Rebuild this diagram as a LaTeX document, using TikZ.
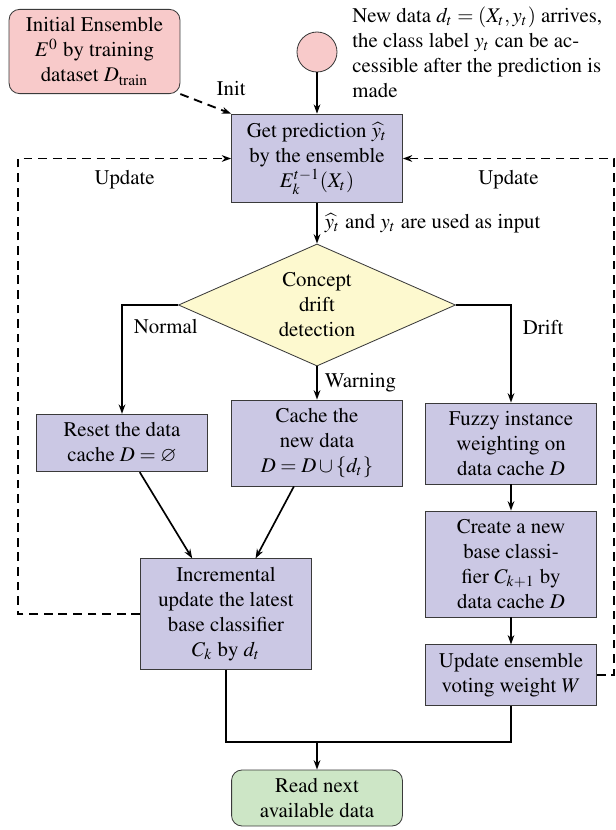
\documentclass[tikz,border=0pt]{standalone}
\usepackage[T1]{fontenc}
\usepackage{amsmath,amssymb}
\usepackage{mathptmx}
\usetikzlibrary{arrows.meta,shapes.geometric}

\definecolor{initred}{HTML}{F8CACA}
\definecolor{boxblue}{HTML}{CBC8E4}
\definecolor{testyellow}{HTML}{FDF9CF}
\definecolor{endgreen}{HTML}{CDE6C6}
\definecolor{edgegray}{HTML}{3A3A3A}

\begin{document}
\begin{tikzpicture}[x=0.48pt,y=-0.48pt,
    proc/.style={draw=edgegray,fill=boxblue,minimum width=82pt,inner sep=4pt,align=center},
    term/.style={proc,rounded corners=5pt},
    test/.style={diamond,draw=edgegray,fill=testyellow,aspect=2.27,inner sep=1pt,
        minimum width=133pt,minimum height=58.6pt,align=center},
    arr/.style={line width=0.8pt,-{Stealth[length=4.5pt,width=3.2pt]}},
    darr/.style={arr,line width=0.9pt,dash pattern=on 4.2pt off 2.8pt},
    line/.style={line width=0.8pt}]
    \useasboundingbox (0,0) rectangle (616,830);

    \node [term,fill=initred] (init) at (94.5,51.5) {Initial Ensemble\\$E^0$ by training\\dataset $D_{\text{train}}$};
    \node [circle,draw=edgegray,fill=initred,minimum size=19.2pt,inner sep=0pt] (start) at (317,52) {};
    \node [anchor=north west,inner sep=0pt,align=left] (note) at (352,6) {New data $d_t=(X_t,y_t)$ arrives,\\the class label $y_t$ can be ac-\\cessible after the prediction is\\made};
    \node [proc] (pred) at (317,158.5) {Get prediction $\widehat{y}_t$\\by the ensemble\\$E_k^{t-1}(X_t)$};
    \node [test] (dd) at (317,305) {Concept\\drift\\detection};
    \node [proc] (reset) at (122,443) {Reset the data\\cache $D=\varnothing$};
    \node [proc] (cache) at (317,443) {Cache the\\new data\\$D=D\cup\{d_t\}$};
    \node [proc] (fuzzy) at (511,443.5) {Fuzzy instance\\weighting on\\data cache $D$};
    \node [proc] (create) at (511,564) {Create a new\\base classi-\\fier $C_{k+1}$ by\\data cache $D$};
    \node [proc] (upd) at (511,675) {Update ensemble\\voting weight $W$};
    \node [proc] (incr) at (226,614) {Incremental\\update the latest\\base classifier\\$C_k$ by $d_t$};
    \node [term,fill=endgreen] (read) at (317,798) {Read next\\available data};

    \coordinate (lft) at (18,158.5);
    \coordinate (rgt) at (614,158.5);
    \coordinate (join) at (317,742);

    \draw [arr] (start) -- (pred);
    \draw [darr] (init.south east) -- (pred.north west) node[at end,above=5pt] {Init};
    \draw [arr] (pred) -- (dd) node[midway,right] {$\widehat{y}_t$ and $y_t$ are used as input};
    \draw [arr] (dd.west) -| (reset) node[pos=0.6,right,xshift=2pt] {Normal};
    \draw [arr] (dd) -- (cache) node[midway,right] {Warning};
    \draw [arr] (dd.east) -| (fuzzy) node[pos=0.615,right,xshift=2pt] {Drift};
    \draw [arr] (reset) -- (incr);
    \draw [arr] (cache) -- (incr);
    \draw [arr] (fuzzy) -- (create);
    \draw [arr] (create) -- (upd);
    \draw [line] (incr) |- (join) -| (upd);
    \draw [arr] (join) -- (read);
    \draw [darr] (incr.west) -| (lft) -- (pred.west) node[midway,below=2pt] {Update};
    \draw [darr] (upd.east) -| (rgt) -- (pred.east) node[midway,below=2pt] {Update};
\end{tikzpicture}
\end{document}
